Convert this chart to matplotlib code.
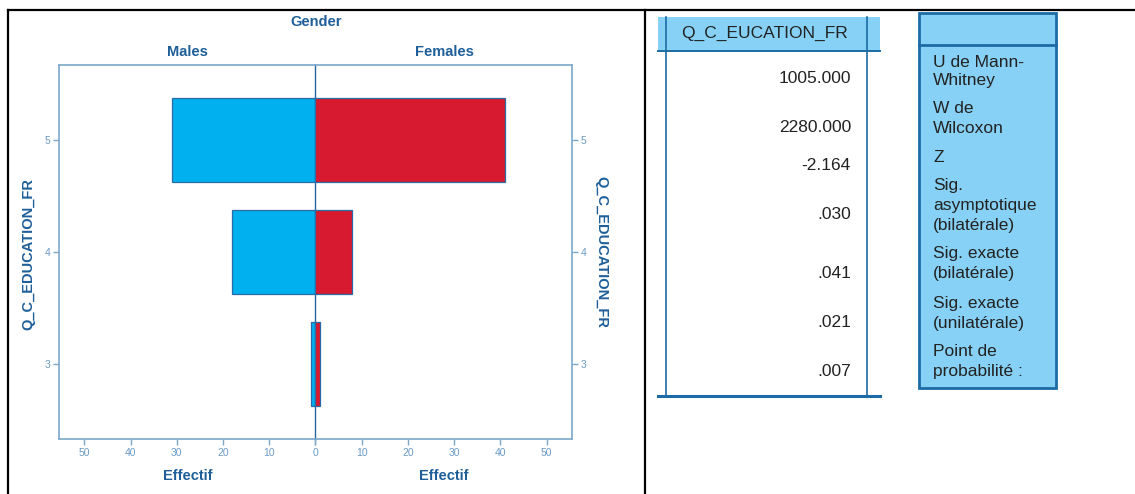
import matplotlib
matplotlib.use("Agg")
import matplotlib.pyplot as plt
from matplotlib.patches import Rectangle
from matplotlib.lines import Line2D

# ---- data -------------------------------------------------------------
education_levels = [3, 4, 5]
males_counts = [1, 18, 31]
females_counts = [1, 8, 41]
x_ticks = [0, 10, 20, 30, 40, 50]

stat_values = [1005.000, 2280.000, -2.164, 0.030, 0.041, 0.021, 0.007]
stat_labels = [
    ["U de Mann-", "Whitney"],
    ["W de", "Wilcoxon"],
    ["Z"],
    ["Sig.", "asymptotique", "(bilatérale)"],
    ["Sig. exacte", "(bilatérale)"],
    ["Sig. exacte", "(unilatérale)"],
    ["Point de", "probabilité :"],
]
table_header = "Q_C_EUCATION_FR"

# ---- styling ----------------------------------------------------------
W, H = 1135, 494
MALE_COLOR = "#00B0EF"
FEMALE_COLOR = "#D71A2F"
BAR_EDGE = "#2A6BA6"
SPINE = "#7CA8CA"
CENTER = "#2467A0"
TITLE = "#1F5F99"
TICK_TXT = "#6B9BC6"
CELL_BLUE = "#86D1F5"
RULE = "#1C6BA6"
TXT = "#222222"

plt.rcParams["font.family"] = ["Liberation Sans", "DejaVu Sans"]

fig = plt.figure(figsize=(W / 100, H / 100), dpi=100)


def box(x0, y0, x1, y1):
    return [x0 / W, 1 - y1 / H, (x1 - x0) / W, (y1 - y0) / H]


XMAX = 55.5
YLIM = (2.33, 5.67)
x_left, x_mid, x_right, y_top, y_bot = 59, 315.3, 572, 65, 439

axL = fig.add_axes(box(x_left, y_top, x_mid, y_bot))
axR = fig.add_axes(box(x_mid, y_top, x_right, y_bot))

axL.barh(education_levels, males_counts, height=0.75, color=MALE_COLOR,
         edgecolor=BAR_EDGE, linewidth=0.9)
axR.barh(education_levels, females_counts, height=0.75, color=FEMALE_COLOR,
         edgecolor=BAR_EDGE, linewidth=0.9)

axL.set_xlim(XMAX, 0)
axR.set_xlim(0, XMAX)
for ax in (axL, axR):
    ax.set_ylim(*YLIM)
    ax.set_yticks(education_levels)
    ax.set_yticklabels([str(v) for v in education_levels])
    ax.tick_params(colors=SPINE, labelcolor=TICK_TXT, labelsize=7.5,
                   length=4.3, width=1.0, direction="out", pad=2)
    for s in ax.spines.values():
        s.set_color(SPINE)
        s.set_linewidth(1.2)
    ax.set_facecolor("none")

axL.set_xticks(x_ticks)
axL.set_xticklabels([str(v) for v in x_ticks])
axR.set_xticks(x_ticks)
axR.set_xticklabels([""] + [str(v) for v in x_ticks[1:]])

axL.spines["right"].set_color(CENTER)
axL.spines["right"].set_linewidth(1.0)
axL.spines["right"].set_zorder(5)
axR.spines["left"].set_visible(False)
axR.yaxis.tick_right()

# ---- overlay in pixel coordinates ---------------------------------------
ov = fig.add_axes([0, 0, 1, 1], zorder=-1)
ov.set_xlim(0, W)
ov.set_ylim(H, 0)
ov.axis("off")

top = fig.add_axes([0, 0, 1, 1], zorder=10)
top.set_xlim(0, W)
top.set_ylim(H, 0)
top.axis("off")

# chart titles
bold = dict(color=TITLE, fontweight="bold", fontsize=10.5, ha="center", va="center")
top.text(315.8, 22, "Gender", **bold)
top.text(187, 52, "Males", **bold)
top.text(444, 52, "Females", **bold)
top.text(187.5, 476, "Effectif", **bold)
top.text(444, 476, "Effectif", **bold)
top.text(28, 254, "Q_C_EDUCATION_FR", rotation=90, **bold)
top.text(601.5, 252, "Q_C_EDUCATION_FR", rotation=270, **bold)

# outer frame
for xs, ys in [((8, W), (10, 10)), ((8, 8), (10, H)), ((645, 645), (10, H))]:
    top.add_line(Line2D(xs, ys, color="black", linewidth=1.6))

# statistics value table
top.add_patch(Rectangle((658, 17.5), 222, 33, facecolor=CELL_BLUE, edgecolor="none"))
top.add_line(Line2D((658, 880), (51, 51), color=RULE, linewidth=1.4))
top.add_line(Line2D((658, 880), (395.5, 395.5), color=RULE, linewidth=2.2))
for xv in (666, 867):
    top.add_line(Line2D((xv, xv), (17.5, 395.5), color=RULE, linewidth=1.2))
top.text(765, 38.3, table_header, ha="center", va="baseline",
         fontsize=12.5, color=TXT)


def fmt(v):
    s = f"{v:.3f}"
    return s.replace("0.", ".", 1) if abs(v) < 1 and s.lstrip("-").startswith("0.") else s


value_baselines = [83.3, 131.7, 170, 219.3, 277.7, 326.7, 376]
for v, yb in zip(stat_values, value_baselines):
    top.text(851, yb, fmt(v), ha="right", va="baseline", fontsize=12.5, color=TXT)

# statistics label table
top.add_patch(Rectangle((918.5, 13), 137, 375, facecolor=CELL_BLUE,
                        edgecolor=RULE, linewidth=2.0))
top.add_line(Line2D((918.5, 1055.5), (45, 45), color=RULE, linewidth=2.0))
label_baselines = [
    [66.7, 84.5],
    [113.3, 133.3],
    [161.7],
    [190, 210, 230],
    [258, 278],
    [308, 327.5],
    [356, 376],
]
for lines, ybs in zip(stat_labels, label_baselines):
    for text, yb in zip(lines, ybs):
        top.text(933, yb, text, ha="left", va="baseline", fontsize=12.5, color=TXT)

fig.savefig("out.png", dpi=100, facecolor="white")
